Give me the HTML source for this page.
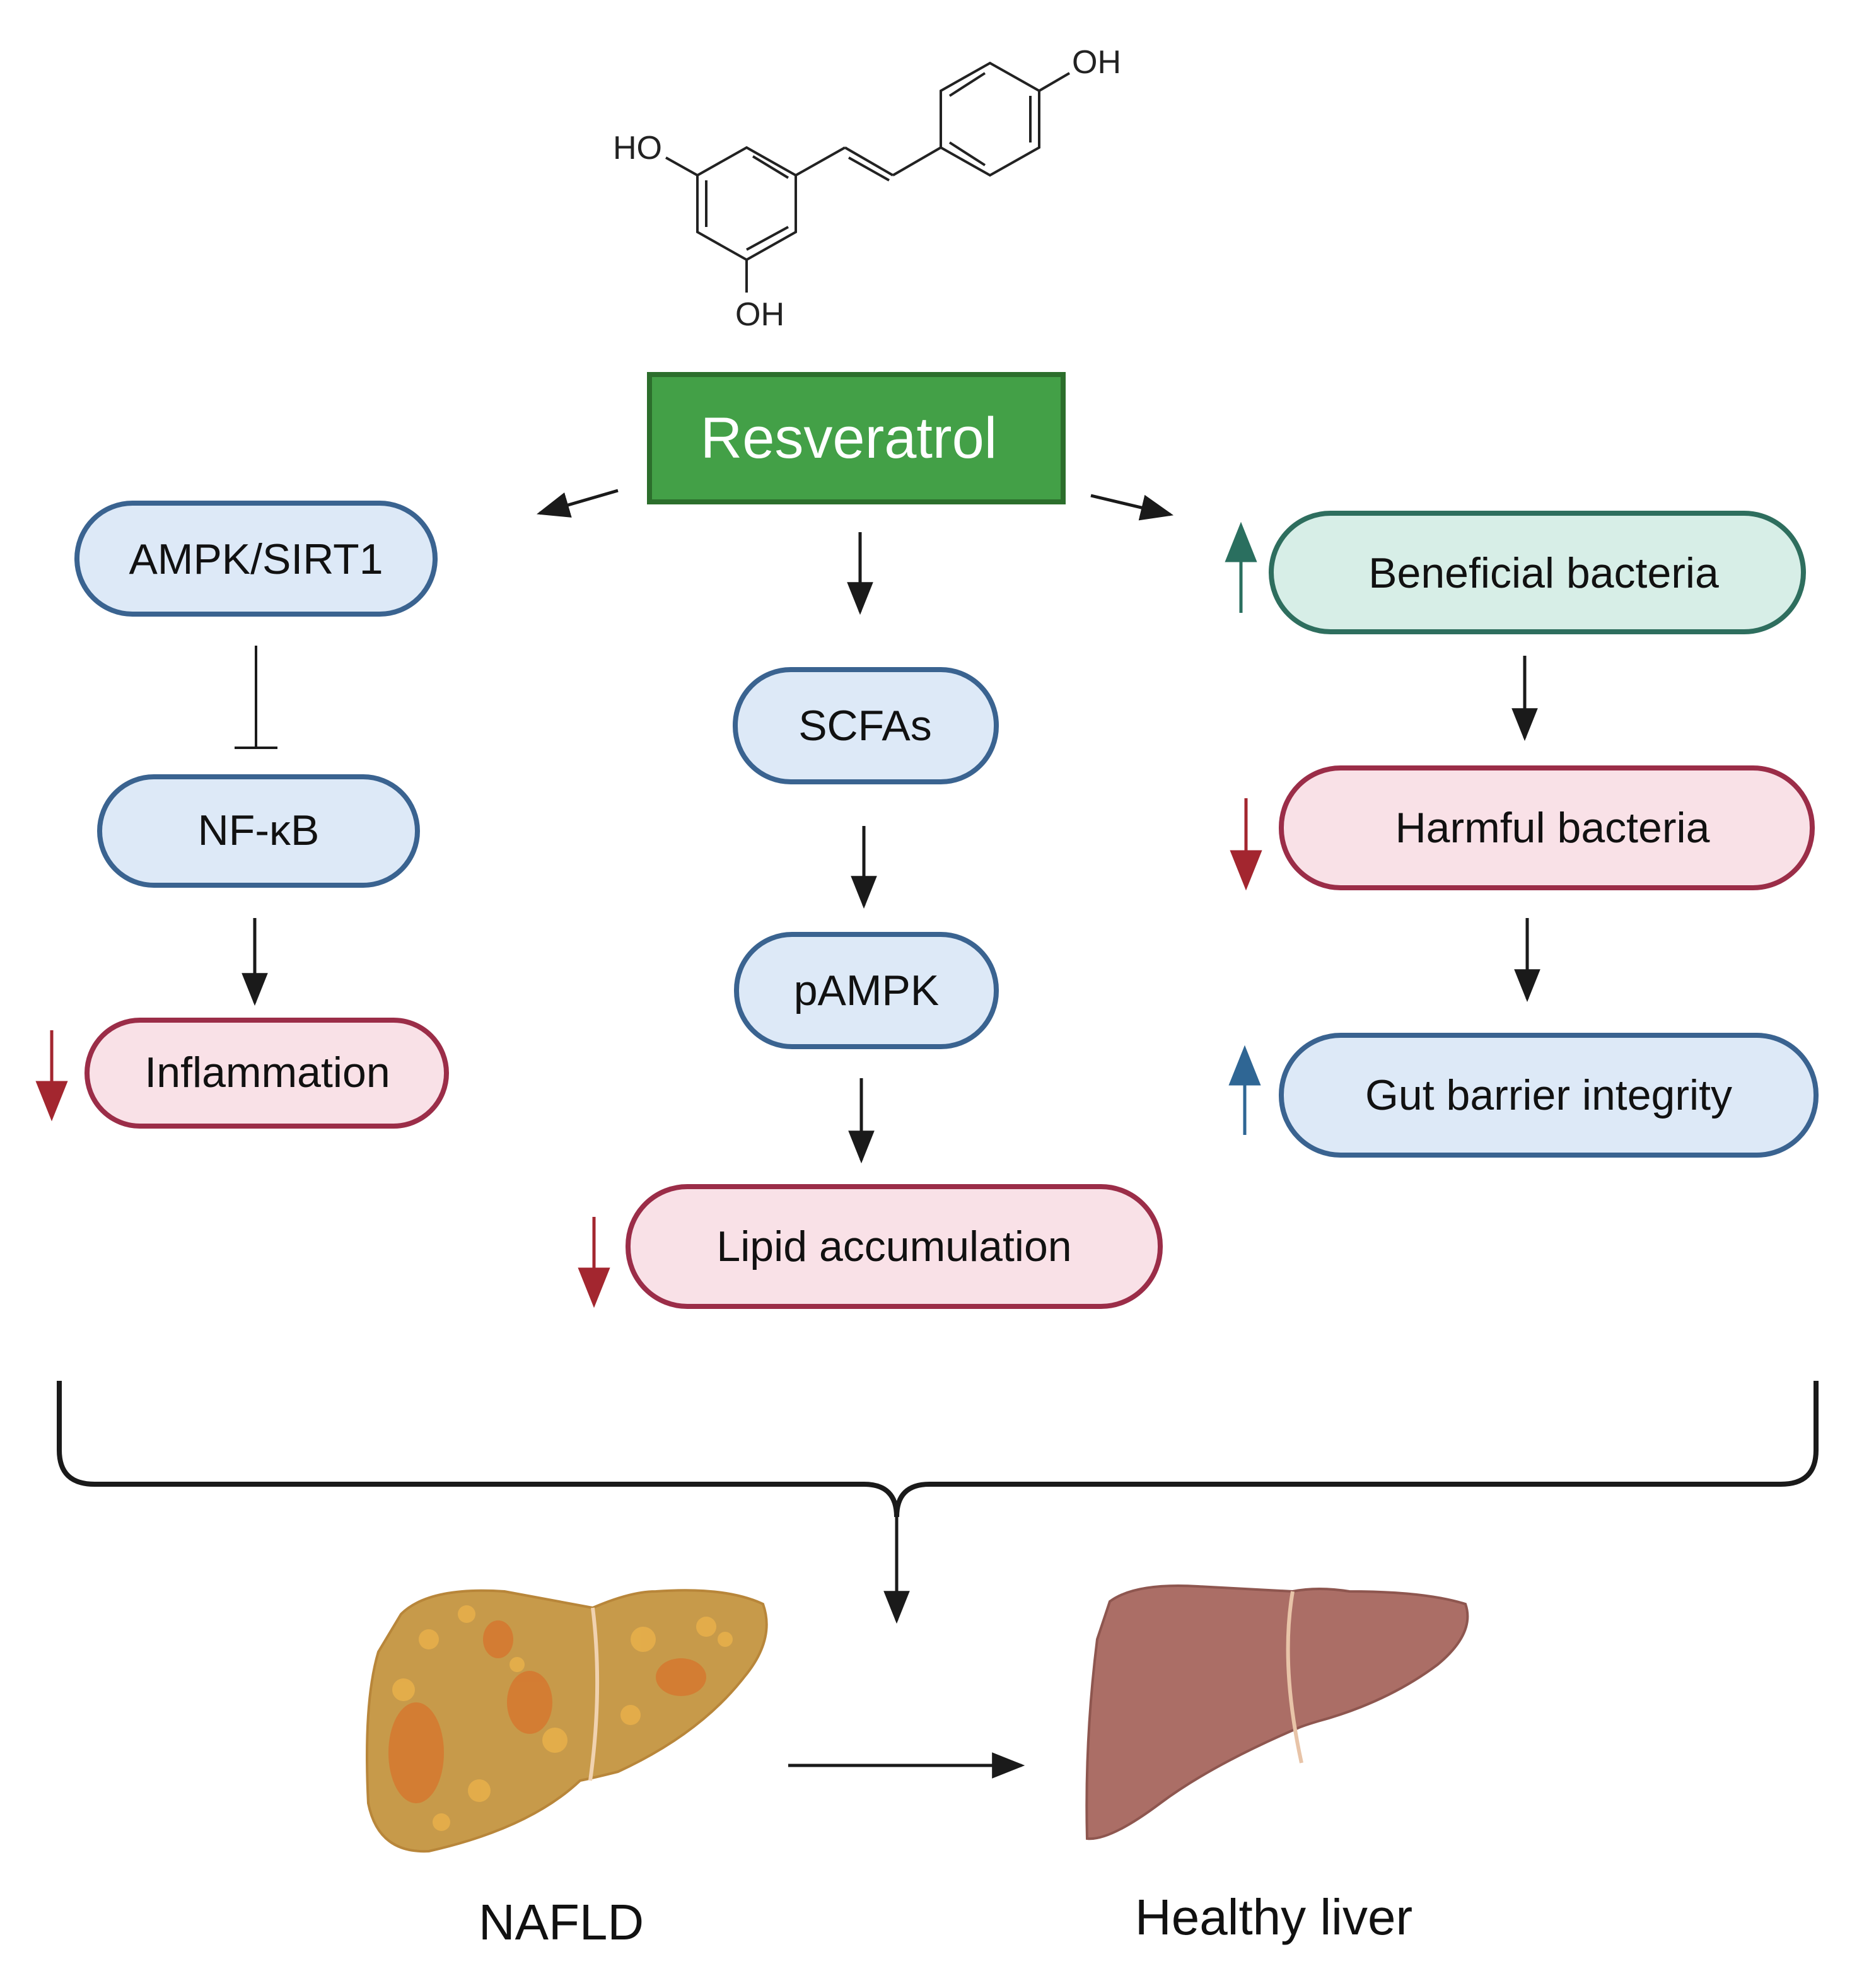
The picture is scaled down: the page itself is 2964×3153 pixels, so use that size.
<!DOCTYPE html>
<html><head><meta charset="utf-8"><style>
html,body{margin:0;padding:0;background:#fff;}
svg{display:block;}
text{font-family:"Liberation Sans",sans-serif;}
</style></head><body>
<svg width="2964" height="3153" viewBox="0 0 1482 1576.5" xmlns="http://www.w3.org/2000/svg">
<defs>
<marker id="ah" viewBox="0 0 10 10" refX="9" refY="5" markerUnits="userSpaceOnUse" markerWidth="26" markerHeight="26" orient="auto"><path d="M0,1 L10,5 L0,9 z" fill="#1a1a1a"/></marker>
<marker id="ahr" viewBox="0 0 10 10" refX="9" refY="5" markerUnits="userSpaceOnUse" markerWidth="32" markerHeight="32" orient="auto"><path d="M0,1 L10,5 L0,9 z" fill="#a3262f"/></marker>
<marker id="ahg" viewBox="0 0 10 10" refX="9" refY="5" markerUnits="userSpaceOnUse" markerWidth="32" markerHeight="32" orient="auto"><path d="M0,1 L10,5 L0,9 z" fill="#2a6f5f"/></marker>
<marker id="ahb" viewBox="0 0 10 10" refX="9" refY="5" markerUnits="userSpaceOnUse" markerWidth="32" markerHeight="32" orient="auto"><path d="M0,1 L10,5 L0,9 z" fill="#2f6694"/></marker>
</defs>

<!-- molecule -->
<g stroke="#222" stroke-width="2" fill="none">
<polygon points="592,117 631,139 631,184 592,206 553,184 553,139"/>
<line x1="560" y1="143" x2="560" y2="180"/><line x1="592" y1="198" x2="625" y2="180"/><line x1="597" y1="124" x2="625" y2="141"/>
<line x1="631" y1="139" x2="670" y2="117"/><line x1="670" y1="117" x2="708" y2="139"/><line x1="673" y1="125" x2="705" y2="143"/>
<line x1="708" y1="139" x2="746" y2="117"/>
<polygon points="746,117 746,72 785,50 824,72 824,117 785,139"/>
<line x1="753" y1="76" x2="781" y2="58"/><line x1="817" y1="76" x2="817" y2="113"/><line x1="753" y1="113" x2="781" y2="131"/>
<line x1="824" y1="72" x2="848" y2="58"/>
<line x1="553" y1="139" x2="528" y2="125"/>
<line x1="592" y1="206" x2="592" y2="232"/>
</g>
<text x="486" y="126" font-size="26" fill="#222">HO</text>
<text x="583" y="258" font-size="26" fill="#222">OH</text>
<text x="850" y="58" font-size="26" fill="#222">OH</text>

<!-- Resveratrol -->
<rect x="515" y="297" width="328" height="101" fill="#43a047" stroke="#2c6e2c" stroke-width="4"/>
<text x="673" y="363" font-size="46" fill="#fff" text-anchor="middle">Resveratrol</text>

<g stroke="#1a1a1a" stroke-width="2.5" fill="none" marker-end="url(#ah)">
<line x1="490" y1="389" x2="428" y2="407"/>
<line x1="682" y1="422" x2="682" y2="485"/>
<line x1="865" y1="393" x2="928" y2="408"/>
<line x1="202" y1="728" x2="202" y2="795"/>
<line x1="685" y1="655" x2="685" y2="718"/>
<line x1="683" y1="855" x2="683" y2="920"/>
<line x1="1209" y1="520" x2="1209" y2="585"/>
<line x1="1211" y1="728" x2="1211" y2="792"/>
<line x1="711" y1="1200" x2="711" y2="1285"/>
<line x1="625" y1="1400" x2="810" y2="1400"/>
</g>
<g stroke="#1a1a1a" stroke-width="2" fill="none">
<line x1="203" y1="512" x2="203" y2="592"/><line x1="186" y1="593" x2="220" y2="593"/>
</g>

<!-- pills -->
<g stroke-width="4">
<rect x="61" y="399" width="284" height="88" rx="44" fill="#dde9f7" stroke="#3a6390"/>
<rect x="79" y="616" width="252" height="86" rx="43" fill="#dde9f7" stroke="#3a6390"/>
<rect x="69" y="809" width="285" height="84" rx="42" fill="#f9e1e7" stroke="#9b2d48"/>
<rect x="583" y="531" width="207" height="89" rx="44" fill="#dde9f7" stroke="#3a6390"/>
<rect x="584" y="741" width="206" height="89" rx="44" fill="#dde9f7" stroke="#3a6390"/>
<rect x="498" y="941" width="422" height="95" rx="47" fill="#f9e1e7" stroke="#9b2d48"/>
<rect x="1008" y="407" width="422" height="94" rx="47" fill="#d7eee7" stroke="#2e6e5e"/>
<rect x="1016" y="609" width="421" height="95" rx="47" fill="#f9e1e7" stroke="#9b2d48"/>
<rect x="1016" y="821" width="424" height="95" rx="47" fill="#dde9f7" stroke="#3a6390"/>
</g>
<g font-size="34" fill="#111" text-anchor="middle">
<text x="203" y="455">AMPK/SIRT1</text>
<text x="205" y="670">NF-κB</text>
<text x="212" y="862">Inflammation</text>
<text x="686" y="587">SCFAs</text>
<text x="687" y="797">pAMPK</text>
<text x="709" y="1000">Lipid accumulation</text>
<text x="1224" y="466">Beneficial bacteria</text>
<text x="1231" y="668">Harmful bacteria</text>
<text x="1228" y="880">Gut barrier integrity</text>
</g>

<!-- colored arrows -->
<line x1="41" y1="817" x2="41" y2="886" stroke="#a3262f" stroke-width="2.5" marker-end="url(#ahr)"/>
<line x1="471" y1="965" x2="471" y2="1034" stroke="#a3262f" stroke-width="2.5" marker-end="url(#ahr)"/>
<line x1="988" y1="633" x2="988" y2="703" stroke="#a3262f" stroke-width="2.5" marker-end="url(#ahr)"/>
<line x1="984" y1="486" x2="984" y2="417" stroke="#2a6f5f" stroke-width="2.5" marker-end="url(#ahg)"/>
<line x1="987" y1="900" x2="987" y2="832" stroke="#2f6694" stroke-width="2.5" marker-end="url(#ahb)"/>

<!-- brace -->
<path d="M47,1095 L47,1150 Q47,1177 75,1177 L685,1177 Q711,1177 711,1203 Q711,1177 737,1177 L1412,1177 Q1440,1177 1440,1150 L1440,1095" fill="none" stroke="#1a1a1a" stroke-width="4"/>

<!-- NAFLD liver -->
<path d="M318,1280 Q340,1258 400,1262 L470,1275 Q500,1262 520,1262 Q575,1258 605,1272 Q615,1300 590,1330 Q555,1375 490,1405 Q470,1410 460,1412 Q420,1450 340,1468 Q300,1470 292,1430 Q288,1350 300,1310 Z" fill="#c79a4a" stroke="#b8863a" stroke-width="2"/>
<path d="M470,1275 Q478,1340 468,1412" stroke="#f0d2b0" stroke-width="3" fill="none"/>
<g fill="#d9702a" opacity="0.7">
<ellipse cx="330" cy="1390" rx="22" ry="40"/><ellipse cx="420" cy="1350" rx="18" ry="25"/><ellipse cx="540" cy="1330" rx="20" ry="15"/><ellipse cx="395" cy="1300" rx="12" ry="15"/>
</g>
<g fill="#e8b04a" opacity="0.85">
<circle cx="340" cy="1300" r="8"/><circle cx="370" cy="1280" r="7"/><circle cx="510" cy="1300" r="10"/><circle cx="560" cy="1290" r="8"/><circle cx="320" cy="1340" r="9"/><circle cx="380" cy="1420" r="9"/><circle cx="440" cy="1380" r="10"/><circle cx="500" cy="1360" r="8"/><circle cx="575" cy="1300" r="6"/><circle cx="350" cy="1445" r="7"/><circle cx="410" cy="1320" r="6"/>
</g>

<!-- healthy liver -->
<path d="M880,1270 Q900,1255 950,1258 L1025,1262 Q1045,1258 1070,1262 Q1130,1262 1162,1272 Q1170,1295 1140,1320 Q1100,1350 1045,1365 Q1035,1368 1030,1370 Q960,1400 920,1430 Q880,1460 862,1458 Q860,1380 870,1300 Z" fill="#ab6e66" stroke="#8e564f" stroke-width="2"/>
<path d="M1025,1262 Q1015,1320 1032,1398" stroke="#e8c4a8" stroke-width="3" fill="none"/>

<text x="445" y="1538" font-size="40" fill="#111" text-anchor="middle">NAFLD</text>
<text x="1010" y="1534" font-size="40" fill="#111" text-anchor="middle">Healthy liver</text>
</svg>
</body></html>
